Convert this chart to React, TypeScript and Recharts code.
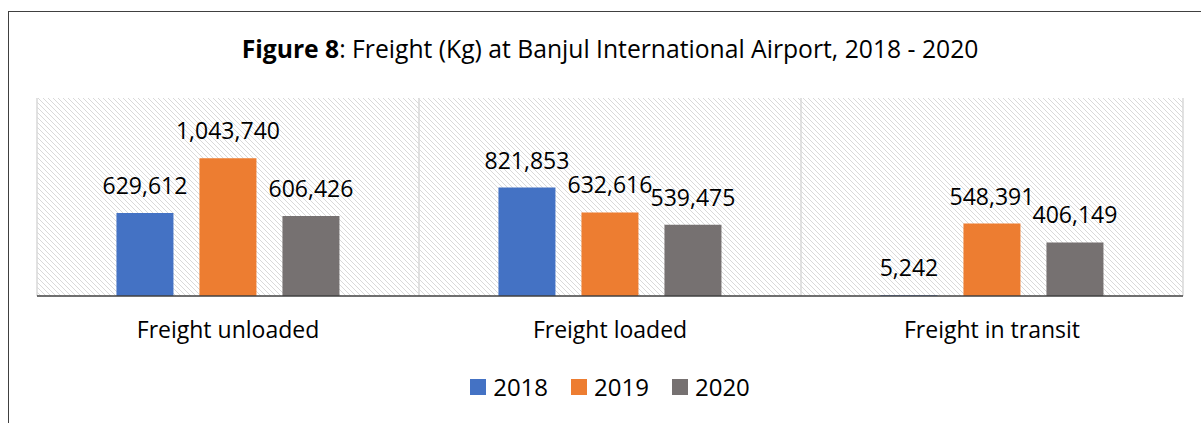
import React from 'react';
import { BarChart, Bar, XAxis, YAxis, CartesianGrid, Legend, LabelList } from 'recharts';

const categories = ['Freight unloaded', 'Freight loaded', 'Freight in transit'];
const years = ['2018', '2019', '2020'];
const values2018 = [629612, 821853, 5242];
const values2019 = [1043740, 632616, 548391];
const values2020 = [606426, 539475, 406149];
const colors = ['#4472C4', '#ED7D31', '#767171'];

const data = categories.map((name, i) => ({
  name,
  '2018': values2018[i],
  '2019': values2019[i],
  '2020': values2020[i],
}));

const FONT = '"Open Sans", Lato, sans-serif';
const fmt = (v: any) => Number(v).toLocaleString('en-US');

const LegendContent = () => (
  <div style={{ display: 'flex', justifyContent: 'center', fontFamily: FONT, fontSize: 24, color: '#000' }}>
    {years.map((y, i) => (
      <div key={y} style={{ display: 'flex', alignItems: 'center', marginRight: i < years.length - 1 ? 23 : 0 }}>
        <span style={{ width: 16, height: 16, background: colors[i], display: 'inline-block', marginRight: 7 }} />
        <span>{y}</span>
      </div>
    ))}
  </div>
);

export default function App() {
  return (
    <div style={{ position: 'absolute', left: 0, top: 0, width: 1201, height: 423, background: '#fff', overflow: 'hidden' }}>
      {/* frame of the figure, cut off at right and bottom */}
      <div style={{ position: 'absolute', left: 8, top: 11, width: 1300, height: 500, borderLeft: '1px solid #404040', borderTop: '1px solid #404040' }} />
      <div style={{ position: 'absolute', left: 37, top: 34, width: 1146, height: 30, lineHeight: '30px', textAlign: 'center', fontFamily: FONT, fontSize: 24.7, color: '#000' }}>
        <b>Figure 8</b>: Freight (Kg) at Banjul International Airport, 2018 - 2020
      </div>
      <BarChart
        width={1201}
        height={423}
        data={data}
        margin={{ top: 98, right: 18, bottom: 87, left: 37 }}
        barCategoryGap="20.8%"
        barGap={26}
        style={{ position: 'absolute', left: 0, top: 0 }}
      >
        <defs>
          <pattern id="hatch" width="5" height="5" patternUnits="userSpaceOnUse">
            <path d="M0,0 L5,5 M-1,4 L1,6 M4,-1 L6,1" stroke="#d9d9d9" strokeWidth="1" />
          </pattern>
        </defs>
        <CartesianGrid
          horizontal={false}
          stroke="#d9d9d9"
          strokeWidth={1.5}
          fill="url(#hatch)"
          fillOpacity={1}
          verticalCoordinatesGenerator={({ offset }: any) =>
            [0, 1, 2, 3].map((i) => offset.left + (offset.width * i) / categories.length)
          }
        />
        <XAxis
          dataKey="name"
          height={40}
          tickLine={false}
          axisLine={{ stroke: '#404040', strokeWidth: 1.5 }}
          tickMargin={20}
          tick={{ fontFamily: FONT, fontSize: 23, fill: '#000' }}
        />
        <YAxis hide domain={[0, 1500000]} />
        <Legend verticalAlign="middle" content={<LegendContent />} wrapperStyle={{ top: 370, left: 37, width: 1146 }} />
        {years.map((y, i) => (
          <Bar key={y} dataKey={y} fill={colors[i]} isAnimationActive={false}>
            <LabelList
              dataKey={y}
              position="top"
              offset={19}
              formatter={fmt}
              style={{ fontFamily: FONT, fontSize: 23, fill: '#000' }}
            />
          </Bar>
        ))}
      </BarChart>
    </div>
  );
}
